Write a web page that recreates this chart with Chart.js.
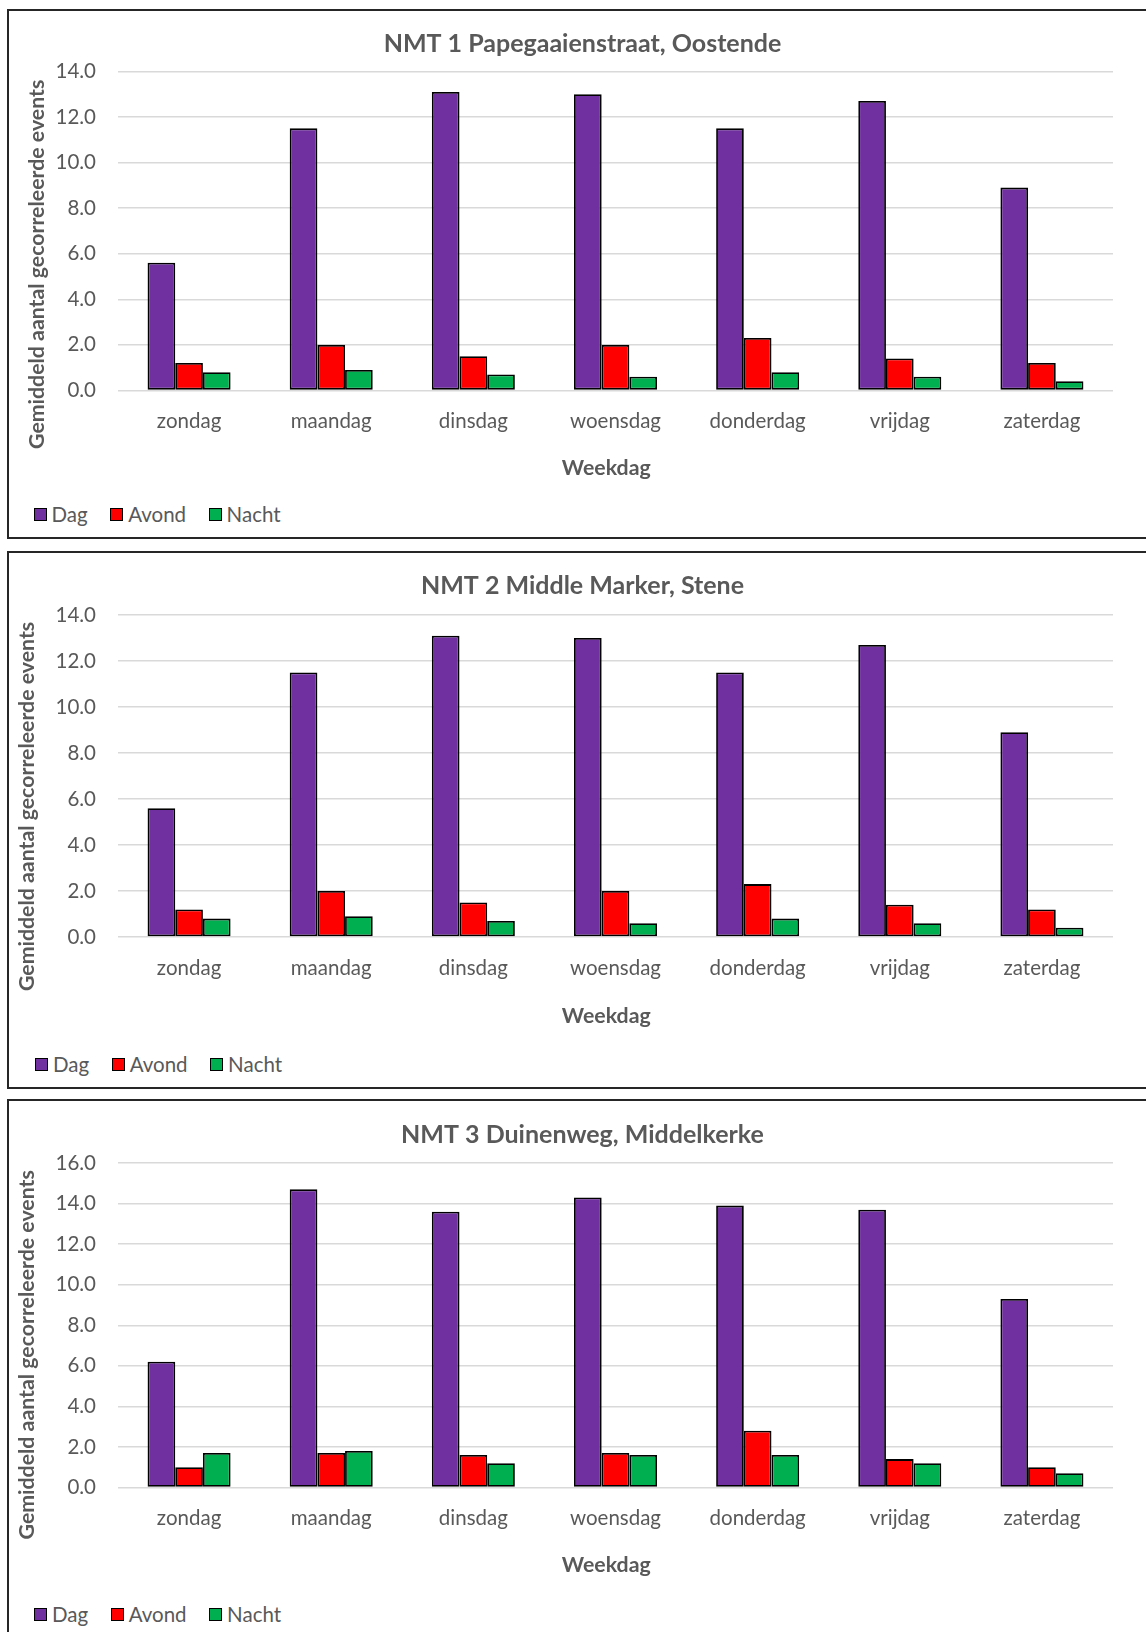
<!DOCTYPE html>
<html lang="nl">
<head>
<meta charset="utf-8">
<title>Gemiddeld aantal gecorreleerde events per weekdag</title>
<script src="https://cdn.jsdelivr.net/npm/chart.js@4.4.1/dist/chart.umd.min.js"></script>
<style>
  html, body { margin: 0; padding: 0; background: #fff; overflow: hidden; }
  body { width: 1146px; height: 1632px; position: relative; font-family: Lato, sans-serif; }
  .panel { position: absolute; left: 7px; width: 1150px; border: 2px solid #262626; box-sizing: border-box; background: #fff; }
  .panel canvas { position: absolute; left: 0; top: 0; }
  .legend { position: absolute; display: flex; align-items: center; height: 24px; font: 20.5px Lato, sans-serif; line-height: 24px; color: #595959; white-space: nowrap; }
  .legend .item { display: flex; align-items: center; margin-right: 22.5px; }
  .legend .swatch { width: 13px; height: 13px; box-sizing: border-box; border: 1.6px solid #000; margin-right: 5px; }
</style>
</head>
<body>
<div class="panel" id="panel0"><canvas id="chart0"></canvas><div class="legend" id="legend0"></div></div>
<div class="panel" id="panel1"><canvas id="chart1"></canvas><div class="legend" id="legend1"></div></div>
<div class="panel" id="panel2"><canvas id="chart2"></canvas><div class="legend" id="legend2"></div></div>

<script>
// Average number of correlated events per weekday, split by period of the day
const weekdays = ['zondag', 'maandag', 'dinsdag', 'woensdag', 'donderdag', 'vrijdag', 'zaterdag'];
const seriesNames = ['Dag', 'Avond', 'Nacht'];
const seriesColors = ['#7030A0', '#FF0000', '#00B050'];

const nmt1Dag   = [5.6, 11.5, 13.1, 13.0, 11.5, 12.7, 8.9];
const nmt1Avond = [1.2, 2.0, 1.5, 2.0, 2.3, 1.4, 1.2];
const nmt1Nacht = [0.8, 0.9, 0.7, 0.6, 0.8, 0.6, 0.4];

const nmt2Dag   = [5.6, 11.5, 13.1, 13.0, 11.5, 12.7, 8.9];
const nmt2Avond = [1.2, 2.0, 1.5, 2.0, 2.3, 1.4, 1.2];
const nmt2Nacht = [0.8, 0.9, 0.7, 0.6, 0.8, 0.6, 0.4];

const nmt3Dag   = [6.2, 14.7, 13.6, 14.3, 13.9, 13.7, 9.3];
const nmt3Avond = [1.0, 1.7, 1.6, 1.7, 2.8, 1.4, 1.0];
const nmt3Nacht = [1.7, 1.8, 1.2, 1.6, 1.6, 1.2, 0.7];

const stationTitles = ['NMT 1 Papegaaienstraat, Oostende', 'NMT 2 Middle Marker, Stene', 'NMT 3 Duinenweg, Middelkerke'];
const yAxisMax = [14, 14, 16];
const yAxisStep = 2;
const yAxisTitle = 'Gemiddeld aantal gecorreleerde events';
const xAxisTitle = 'Weekdag';

const stationSeries = [
  [nmt1Dag, nmt1Avond, nmt1Nacht],
  [nmt2Dag, nmt2Avond, nmt2Nacht],
  [nmt3Dag, nmt3Avond, nmt3Nacht],
];

// Frame and plot geometry of each panel (canvas coordinates)
const CANVAS_W = 1137, CANVAS_H = 480;
const PLOT_LEFT = 109, PLOT_RIGHT = 1104, PAD_LEFT = 43;
const panelLayout = [
  { top: 9,    height: 530, plotTop: 60.4, plotBottom: 379.4, titleY: 33.3, yTitle: [28, 253.3], xTitle: [597.3, 457.0], legend: [24.5, 491] },
  { top: 551,  height: 538, plotTop: 62.0, plotBottom: 384.0, titleY: 33.4, yTitle: [18, 253.4], xTitle: [597.3, 463.0], legend: [26.0, 499] },
  { top: 1099, height: 600, plotTop: 62.0, plotBottom: 386.5, titleY: 33.6, yTitle: [18, 253.8], xTitle: [597.3, 464.6], legend: [25.0, 501] },
];

const TEXT_COLOR = '#595959';
Chart.defaults.font.family = 'Lato, sans-serif';
Chart.defaults.color = TEXT_COLOR;

// Axis captions drawn at fixed spots beside the plot
const axisCaptions = {
  id: 'axisCaptions',
  afterDraw(chart, args, opts) {
    const ctx = chart.ctx;
    ctx.save();
    ctx.fillStyle = opts.color;
    ctx.font = `bold ${opts.size}px Lato, sans-serif`;
    ctx.textAlign = 'center';
    ctx.textBaseline = 'middle';
    ctx.fillText(opts.xText, opts.xPos[0], opts.xPos[1]);
    ctx.translate(opts.yPos[0], opts.yPos[1]);
    ctx.rotate(-Math.PI / 2);
    ctx.fillText(opts.yText, 0, 0);
    ctx.restore();
  }
};

// Legend rendered as HTML from the chart's datasets
const htmlLegend = {
  id: 'htmlLegend',
  afterUpdate(chart, args, opts) {
    const box = document.getElementById(opts.containerID);
    box.innerHTML = '';
    chart.data.datasets.forEach(ds => {
      const item = document.createElement('span');
      item.className = 'item';
      const swatch = document.createElement('span');
      swatch.className = 'swatch';
      swatch.style.background = ds.backgroundColor;
      swatch.style.borderColor = ds.borderColor;
      const label = document.createElement('span');
      label.textContent = ds.label;
      item.append(swatch, label);
      box.append(item);
    });
  }
};

stationTitles.forEach((title, i) => {
  const g = panelLayout[i];
  const panel = document.getElementById('panel' + i);
  panel.style.top = g.top + 'px';
  panel.style.height = g.height + 'px';
  const legendBox = document.getElementById('legend' + i);
  legendBox.style.left = g.legend[0] + 'px';
  legendBox.style.top = g.legend[1] + 'px';

  const canvas = document.getElementById('chart' + i);
  canvas.width = CANVAS_W;
  canvas.height = CANVAS_H;
  canvas.style.width = CANVAS_W + 'px';
  canvas.style.height = CANVAS_H + 'px';

  new Chart(canvas, {
    type: 'bar',
    data: {
      labels: weekdays,
      datasets: seriesNames.map((name, k) => ({
        label: name,
        data: stationSeries[i][k],
        backgroundColor: seriesColors[k],
        borderColor: '#000000',
        borderWidth: 1.8,
        borderSkipped: false,
        categoryPercentage: 0.584,
        barPercentage: 1.0,
      })),
    },
    options: {
      responsive: false,
      animation: false,
      layout: { padding: { left: PAD_LEFT, right: CANVAS_W - PLOT_RIGHT, top: 0, bottom: 0 } },
      plugins: {
        legend: { display: false },
        tooltip: { enabled: false },
        title: {
          display: true,
          text: title,
          color: TEXT_COLOR,
          font: { size: 25, weight: 'bold', lineHeight: 1.2 },
          padding: { top: g.titleY - 15, bottom: g.plotTop - g.titleY - 15 },
        },
        axisCaptions: {
          color: TEXT_COLOR, size: 21.3,
          xText: xAxisTitle, xPos: g.xTitle,
          yText: yAxisTitle, yPos: g.yTitle,
        },
        htmlLegend: { containerID: 'legend' + i },
      },
      scales: {
        x: {
          grid: { display: false, drawTicks: false },
          border: { display: false },
          ticks: { padding: 19, color: TEXT_COLOR, font: { size: 20.5 } },
          afterFit: s => { s.height = CANVAS_H - g.plotBottom; },
        },
        y: {
          min: 0,
          max: yAxisMax[i],
          ticks: { stepSize: yAxisStep, padding: 22, color: TEXT_COLOR, font: { size: 20.5 }, callback: v => Number(v).toFixed(1) },
          grid: { color: '#d9d9d9', lineWidth: 1.5, drawTicks: false },
          border: { display: false },
          afterFit: s => { s.width = PLOT_LEFT - PAD_LEFT; },
        },
      },
    },
    plugins: [axisCaptions, htmlLegend],
  });
});
</script>
</body>
</html>
